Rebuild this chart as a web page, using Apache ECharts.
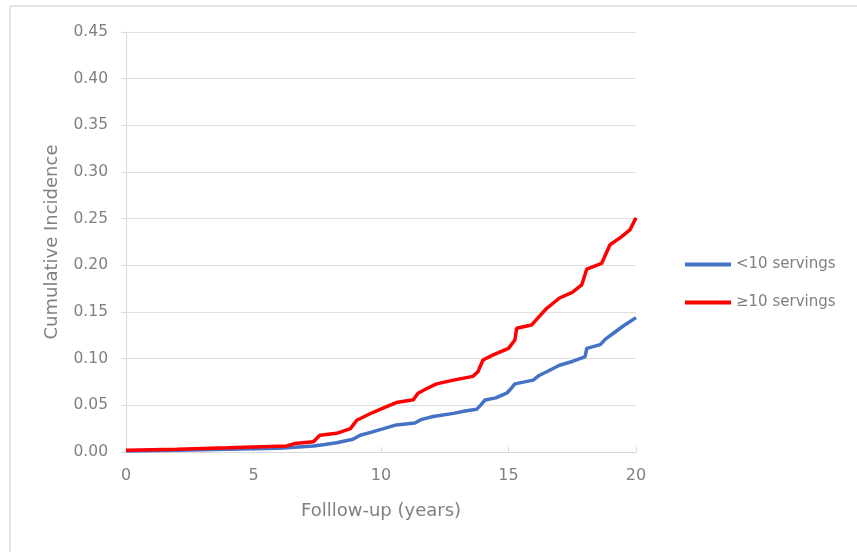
<!DOCTYPE html>
<html>
<head>
<meta charset="utf-8">
<script src="https://cdn.jsdelivr.net/npm/echarts@6/dist/echarts.min.js"></script>
<style>html,body{margin:0;padding:0;background:#fff;}#c{width:857px;height:552px;}</style>
</head>
<body>
<div id="c"></div>
<script>
var seriesNames = ['<10 servings', '\u226510 servings'];
var yTicks = [0, 0.05, 0.10, 0.15, 0.20, 0.25, 0.30, 0.35, 0.40, 0.45];
var xTicks = [0, 5, 10, 15, 20];

// [years, cumulative incidence]
var lowServings = [
  [0, 0.001], [2, 0.002], [4, 0.003], [6, 0.004], [7.35, 0.0064], [7.8, 0.008],
  [8.26, 0.010], [8.9, 0.0136], [9.18, 0.018], [9.6, 0.021], [10.1, 0.025],
  [10.6, 0.029], [11.33, 0.031], [11.6, 0.035], [12.05, 0.038], [12.84, 0.0414],
  [13.3, 0.044], [13.75, 0.0457], [13.9, 0.050], [14.08, 0.0557], [14.5, 0.058],
  [14.93, 0.063], [15.1, 0.068], [15.25, 0.073], [15.97, 0.077], [16.2, 0.082],
  [16.5, 0.086], [17.0, 0.093], [17.5, 0.097], [18.0, 0.102], [18.07, 0.111],
  [18.6, 0.115], [18.8, 0.121], [19.1, 0.127], [19.5, 0.135], [20.0, 0.144]
];
var highServings = [
  [0, 0.002], [2, 0.003], [4, 0.0045], [6.3, 0.0064], [6.6, 0.009], [7.35, 0.011],
  [7.6, 0.018], [8.26, 0.020], [8.8, 0.025], [9.05, 0.034], [9.57, 0.041],
  [10.08, 0.047], [10.6, 0.053], [11.27, 0.056], [11.45, 0.063], [11.8, 0.068],
  [12.18, 0.073], [12.84, 0.077], [13.6, 0.081], [13.8, 0.086], [14.0, 0.0986],
  [14.4, 0.104], [15.0, 0.111], [15.25, 0.12], [15.32, 0.1325], [15.9, 0.136],
  [16.2, 0.145], [16.5, 0.154], [17.0, 0.165], [17.5, 0.171], [17.87, 0.179],
  [18.07, 0.196], [18.65, 0.202], [18.98, 0.222], [19.4, 0.230], [19.76, 0.238],
  [20.0, 0.251]
];

var chart = echarts.init(document.getElementById('c'));
var grey = '#808080';
chart.setOption({
  animation: false,
  backgroundColor: '#fff',
  textStyle: { fontFamily: 'DejaVu Sans, sans-serif' },
  graphic: [
    { type: 'line', shape: { x1: 10, y1: 6, x2: 10, y2: 552 }, style: { stroke: '#e4e4e4', lineWidth: 2 } },
    { type: 'line', shape: { x1: 10, y1: 6, x2: 857, y2: 6 }, style: { stroke: '#e4e4e4', lineWidth: 2 } }
  ],
  grid: { left: 126, right: 221, top: 32, bottom: 100, containLabel: false },
  legend: {
    orient: 'vertical',
    left: 680,
    top: 250,
    itemGap: 19,
    itemWidth: 46,
    itemHeight: 4,
    icon: 'rect',
    textStyle: { color: grey, fontSize: 15, lineHeight: 19 },
    data: seriesNames
  },
  xAxis: {
    type: 'value',
    min: xTicks[0],
    max: xTicks[xTicks.length - 1],
    interval: 5,
    name: 'Folllow-up (years)',
    nameLocation: 'middle',
    nameGap: 50,
    nameTextStyle: { color: grey, fontSize: 18 },
    axisLine: { show: true, lineStyle: { color: '#d9d9d9', width: 1 } },
    axisTick: { show: true, inside: true, length: 5, lineStyle: { color: '#d9d9d9' } },
    axisLabel: { color: grey, fontSize: 16, margin: 16 },
    splitLine: { show: false }
  },
  yAxis: {
    type: 'value',
    min: yTicks[0],
    max: yTicks[yTicks.length - 1],
    interval: 0.05,
    name: 'Cumulative Incidence',
    nameLocation: 'middle',
    nameGap: 65,
    nameTextStyle: { color: grey, fontSize: 18 },
    axisLine: { show: true, lineStyle: { color: '#d9d9d9', width: 1 } },
    axisTick: { show: true, length: 5, lineStyle: { color: '#d9d9d9' } },
    axisLabel: { color: grey, fontSize: 15.5, margin: 18, formatter: function (v) { return v.toFixed(2); } },
    splitLine: { show: true, lineStyle: { color: '#e0e0e0', width: 1 } }
  },
  series: [
    {
      name: seriesNames[0], type: 'line', data: lowServings, showSymbol: false, symbol: 'none',
      lineStyle: { color: '#4472c4', width: 3.5 }, itemStyle: { color: '#4472c4' }, z: 2
    },
    {
      name: seriesNames[1], type: 'line', data: highServings, showSymbol: false, symbol: 'none',
      lineStyle: { color: '#ff0000', width: 3.5 }, itemStyle: { color: '#ff0000' }, z: 3
    }
  ]
});
</script>
</body>
</html>
